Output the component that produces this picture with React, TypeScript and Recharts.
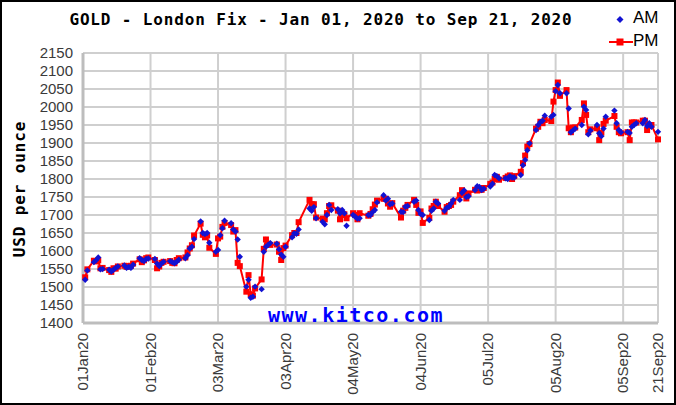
import { ComposedChart, Line, XAxis, YAxis, CartesianGrid } from 'recharts';

// London fix dates (trading days, 2020)
const fixDates = [
  '01-02', '01-03', '01-06', '01-07', '01-08', '01-09', '01-10', '01-13', '01-14', '01-15', '01-16',
  '01-17', '01-20', '01-21', '01-22', '01-23', '01-24', '01-27', '01-28', '01-29', '01-30', '01-31',
  '02-03', '02-04', '02-05', '02-06', '02-07', '02-10', '02-11', '02-12', '02-13', '02-14',
  '02-17', '02-18', '02-19', '02-20', '02-21', '02-24', '02-25', '02-26', '02-27', '02-28',
  '03-02', '03-03', '03-04', '03-05', '03-06', '03-09', '03-10', '03-11', '03-12', '03-13', '03-16',
  '03-17', '03-18', '03-19', '03-20', '03-23', '03-24', '03-25', '03-26', '03-27', '03-30', '03-31',
  '04-01', '04-02', '04-03', '04-06', '04-07', '04-08', '04-09', '04-14', '04-15', '04-16',
  '04-17', '04-20', '04-21', '04-22', '04-23', '04-24', '04-27', '04-28', '04-29', '04-30',
  '05-01', '05-04', '05-05', '05-06', '05-07', '05-11', '05-12', '05-13', '05-14', '05-15',
  '05-18', '05-19', '05-20', '05-21', '05-22', '05-26', '05-27', '05-28', '05-29',
  '06-01', '06-02', '06-03', '06-04', '06-05', '06-08', '06-09', '06-10', '06-11', '06-12', '06-15',
  '06-16', '06-17', '06-18', '06-19', '06-22', '06-23', '06-24', '06-25', '06-26', '06-29', '06-30',
  '07-01', '07-02', '07-03', '07-06', '07-07', '07-08', '07-09', '07-10', '07-13', '07-14', '07-15', '07-16',
  '07-17', '07-20', '07-21', '07-22', '07-23', '07-24', '07-27', '07-28', '07-29', '07-30', '07-31',
  '08-03', '08-04', '08-05', '08-06', '08-07', '08-10', '08-11', '08-12', '08-13', '08-14',
  '08-17', '08-18', '08-19', '08-20', '08-21', '08-24', '08-25', '08-26', '08-27', '08-28',
  '09-01', '09-02', '09-03', '09-04', '09-07', '09-08', '09-09', '09-10', '09-11', '09-14',
  '09-15', '09-16', '09-17', '09-18', '09-21',
];

const amFix = [
  1520, 1546, 1569, 1574, 1582, 1549, 1550, 1548, 1543, 1548, 1553,
  1557, 1560, 1553, 1556, 1553, 1562, 1580, 1575, 1572, 1578, 1579,
  1578, 1565, 1558, 1565, 1570, 1572, 1569, 1566, 1570, 1576,
  1580, 1588, 1607, 1612, 1633, 1682, 1650, 1647, 1650, 1623,
  1598, 1603, 1644, 1663, 1684, 1677, 1660, 1654, 1632, 1584, 1501,
  1520, 1470, 1473, 1501, 1494, 1598, 1612, 1617, 1622, 1620, 1605,
  1590, 1584, 1612, 1638, 1649, 1648, 1660, 1718, 1712, 1722,
  1691, 1681, 1674, 1700, 1728, 1714, 1716, 1705, 1714, 1705,
  1670, 1700, 1695, 1690, 1691, 1700, 1700, 1708, 1714, 1735,
  1755, 1740, 1745, 1730, 1732, 1709, 1708, 1723, 1725,
  1737, 1740, 1714, 1703, 1700, 1686, 1712, 1718, 1737, 1732, 1712,
  1720, 1723, 1732, 1742, 1742, 1762, 1768, 1750, 1752, 1769, 1780,
  1778, 1769, 1773, 1779, 1787, 1811, 1808, 1802, 1802, 1800, 1808, 1804,
  1804, 1811, 1838, 1853, 1880, 1899, 1936, 1950, 1958, 1962, 1976,
  1973, 1978, 2044, 2061, 2038, 2038, 1996, 1930, 1935, 1940,
  1950, 2001, 1992, 1924, 1935, 1950, 1927, 1919, 1940, 1973,
  1990, 1955, 1936, 1930, 1931, 1928, 1945, 1950, 1955, 1955,
  1964, 1947, 1955, 1945, 1931,
];

const pmFix = [
  1527, 1549, 1573, 1571, 1574, 1552, 1553, 1547, 1542, 1552, 1551,
  1557, 1559, 1556, 1558, 1559, 1565, 1577, 1569, 1574, 1580, 1582,
  1575, 1552, 1557, 1567, 1570, 1572, 1567, 1566, 1575, 1580,
  1582, 1596, 1607, 1616, 1643, 1676, 1645, 1638, 1643, 1609,
  1592, 1635, 1640, 1667, 1678, 1672, 1654, 1658, 1567, 1558, 1487,
  1533, 1480, 1476, 1496, 1521, 1606, 1632, 1620, 1617, 1618, 1598,
  1575, 1608, 1615, 1644, 1650, 1650, 1680, 1742, 1730, 1730,
  1693, 1690, 1688, 1705, 1725, 1727, 1712, 1688, 1700, 1702,
  1691, 1705, 1700, 1688, 1705, 1698, 1703, 1716, 1729, 1740,
  1745, 1745, 1732, 1723, 1733, 1693, 1712, 1720, 1728,
  1742, 1728, 1706, 1710, 1678, 1692, 1718, 1725, 1737, 1725, 1709,
  1722, 1725, 1728, 1737, 1755, 1769, 1760, 1746, 1760, 1770, 1768,
  1770, 1770, 1775, 1786, 1790, 1800, 1806, 1798, 1803, 1807, 1810, 1800,
  1808, 1820, 1844, 1865, 1890, 1897, 1940, 1945, 1959, 1955, 1964,
  1961, 2015, 2047, 2068, 2031, 2047, 1941, 1930, 1943, 1943,
  1964, 2010, 1978, 1930, 1938, 1941, 1908, 1929, 1953, 1962,
  1975, 1945, 1930, 1927, 1930, 1908, 1957, 1957, 1957, 1962,
  1962, 1936, 1947, 1950, 1910,
];

// days since Jan 01, 2020
const xTickDays = [0, 31, 62, 93, 124, 155, 186, 217, 248, 264];
const xTickLabels = ['01Jan20', '01Feb20', '03Mar20', '03Apr20', '04May20', '04Jun20', '05Jul20', '05Aug20', '05Sep20', '21Sep20'];
const yTicks = [1400, 1450, 1500, 1550, 1600, 1650, 1700, 1750, 1800, 1850, 1900, 1950, 2000, 2050, 2100, 2150];

const dayOf = (md: string) => {
  const [m, d] = md.split('-').map(Number);
  return (Date.UTC(2020, m - 1, d) - Date.UTC(2020, 0, 1)) / 86400000;
};

const data = fixDates.map((md, i) => ({ day: dayOf(md), am: amFix[i], pm: pmFix[i] }));

const RED = '#ff0000';
const BLUE = '#1212d2';
const mono = '"DejaVu Sans Mono", monospace';
const sans = '"Liberation Sans", Arial, sans-serif';

const PmDot = (props: any) => {
  const { cx, cy } = props;
  if (cx == null || cy == null) return null;
  return <rect key={props.index} x={cx - 3} y={cy - 3} width={6} height={6} fill={RED} />;
};

// AM marker: small plus-ish diamond
const AmDot = (props: any) => {
  const { cx, cy } = props;
  if (cx == null || cy == null) return null;
  const r = 3.2;
  return (
    <path
      key={props.index}
      d={`M${cx},${cy - r}L${cx + r},${cy}L${cx},${cy + r}L${cx - r},${cy}Z`}
      fill={BLUE}
    />
  );
};

const XTick = (props: any) => {
  const { x, y, payload } = props;
  const idx = xTickDays.indexOf(payload.value);
  return (
    <text
      x={x}
      y={y}
      transform={`rotate(-90, ${x}, ${y})`}
      textAnchor="end"
      dy="0.35em"
      fontSize={15}
      fontFamily={sans}
      fill="#3a3a3a"
    >
      {xTickLabels[idx]}
    </text>
  );
};

export default function App() {
  return (
    <div style={{ position: 'absolute', left: 0, top: 0, width: 676, height: 405, background: '#fff' }}>
      <ComposedChart width={676} height={405} data={data} margin={{ top: 53, right: 18, bottom: 0, left: 0 }}>
        <CartesianGrid stroke="#cfcfcf" strokeWidth={2} />
        <XAxis
          type="number"
          dataKey="day"
          domain={[0, 264]}
          ticks={xTickDays}
          interval={0}
          height={82}
          tickLine={false}
          tickSize={6}
          tickMargin={4}
          axisLine={{ stroke: '#bdbdbd', strokeWidth: 3 }}
          tick={<XTick />}
        />
        <YAxis
          type="number"
          domain={[1400, 2150]}
          ticks={yTicks}
          interval={0}
          width={83}
          tickLine={false}
          tickSize={6}
          tickMargin={4}
          axisLine={{ stroke: '#bdbdbd', strokeWidth: 3 }}
          tick={{ fontSize: 15, fill: '#3a3a3a', fontFamily: sans }}
        />
        <Line
          type="linear"
          dataKey="pm"
          stroke={RED}
          strokeWidth={2}
          dot={PmDot}
          activeDot={false}
          isAnimationActive={false}
        />
        <Line
          type="linear"
          dataKey="am"
          stroke="none"
          dot={AmDot}
          activeDot={false}
          isAnimationActive={false}
        />
      </ComposedChart>

      {/* title */}
      <div
        style={{
          position: 'absolute', left: 321, top: 19, transform: 'translate(-50%, -50%)',
          fontFamily: mono, fontWeight: 'bold', fontSize: 16, letterSpacing: 0.85, whiteSpace: 'nowrap', color: '#000',
        }}
      >
        GOLD - London Fix - Jan 01, 2020 to Sep 21, 2020
      </div>

      {/* legend */}
      <svg style={{ position: 'absolute', left: 600, top: 6 }} width={70} height={46}>
        <path d="M20,10L23.5,13.5L20,17L16.5,13.5Z" fill={BLUE} />
        <line x1={9} y1={36} x2={33} y2={36} stroke={RED} strokeWidth={2} />
        <rect x={16.5} y={32.5} width={7} height={7} fill={RED} />
      </svg>
      <div style={{ position: 'absolute', left: 633, top: 18, transform: 'translateY(-50%)', fontFamily: sans, fontSize: 17, color: '#000' }}>AM</div>
      <div style={{ position: 'absolute', left: 633, top: 41, transform: 'translateY(-50%)', fontFamily: sans, fontSize: 17, color: '#000' }}>PM</div>

      {/* y axis title */}
      <div
        style={{
          position: 'absolute', left: 19, top: 189, transform: 'translate(-50%, -50%) rotate(-90deg)',
          fontFamily: mono, fontWeight: 'bold', fontSize: 16, letterSpacing: 0.85, whiteSpace: 'nowrap', color: '#000',
        }}
      >
        USD per ounce
      </div>

      {/* watermark */}
      <div
        style={{
          position: 'absolute', left: 268, top: 315, transform: 'translateY(-50%)',
          fontFamily: mono, fontWeight: 'bold', fontSize: 20, letterSpacing: 1.5, whiteSpace: 'nowrap', color: '#0000ff',
        }}
      >
        www.kitco.com
      </div>

      <div style={{ position: 'absolute', left: 0, top: 0, width: 676, height: 405, border: '2px solid #000', boxSizing: 'border-box', pointerEvents: 'none' }} />
    </div>
  );
}
